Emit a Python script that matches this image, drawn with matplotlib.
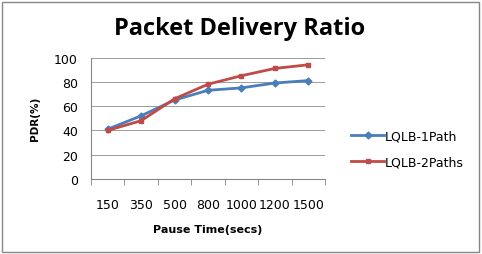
import matplotlib
matplotlib.use("Agg")
import matplotlib.pyplot as plt
from matplotlib.patches import Rectangle

pause_times = ["150", "350", "500", "800", "1000", "1200", "1500"]
pdr_1path = [41, 52, 65, 73, 75, 79, 81]
pdr_2paths = [40, 48, 66, 78, 85, 91, 94]
y_ticks = [0, 20, 40, 60, 80, 100]

plt.rcParams['font.family'] = ['DejaVu Sans']

fig = plt.figure(figsize=(4.82, 2.55), dpi=100)
ax = fig.add_axes([91 / 482, 1 - 180 / 255, 234 / 482, 121.5 / 255])

x = range(len(pause_times))
ax.plot(x, pdr_1path, color='#4A7EBB', lw=2, marker='D', ms=3.5, label='LQLB-1Path')
ax.plot(x, pdr_2paths, color='#BE4B48', lw=2, marker='s', ms=3.5, label='LQLB-2Paths')

ax.set_xlim(-0.5, len(pause_times) - 0.5)
ax.set_ylim(0, 100)
ax.set_yticks(y_ticks)
ax.set_xticks(list(x))
ax.set_xticklabels(pause_times)
ax.set_xticks([i - 0.5 for i in range(len(pause_times) + 1)], minor=True)
ax.tick_params(axis='x', which='major', length=0, pad=14, labelsize=9)
ax.tick_params(axis='x', which='minor', length=4, color='#868686', direction='out')
ax.tick_params(axis='y', length=0, pad=9.5, labelsize=9)
ax.grid(axis='y', color='#9a9a9a', lw=0.7)
ax.set_axisbelow(True)
for s in ['top', 'right']:
    ax.spines[s].set_visible(False)
for s in ['left', 'bottom']:
    ax.spines[s].set_color('#868686')
    ax.spines[s].set_linewidth(0.8)

ax.set_xlabel('Pause Time(secs)', fontsize=8, fontweight='bold', labelpad=9)
ax.set_ylabel('PDR(%)', fontsize=7.5, fontweight='bold', labelpad=10)
fig.text(240 / 482, 1 - 29 / 255, 'Packet Delivery Ratio', ha='center', va='center',
         fontsize=17, fontweight='bold', family='Open Sans')

fig.legend(loc='center left', bbox_to_anchor=(340 / 482, 1 - 150 / 255), frameon=False,
           fontsize=9, handlelength=2.6, labelspacing=1.0, handletextpad=0.1)

fig.patches.append(Rectangle((2 / 482, 2 / 255), 477 / 482, 250 / 255, transform=fig.transFigure,
                             fill=False, edgecolor='#878787', lw=1))

fig.savefig('out.png', dpi=100)
